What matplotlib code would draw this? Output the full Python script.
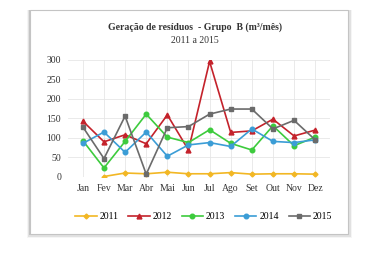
import matplotlib
matplotlib.use("Agg")
import matplotlib.pyplot as plt
from matplotlib.patches import Rectangle

# data (m3/month)
months = ["Jan", "Fev", "Mar", "Abr", "Mai", "Jun", "Jul", "Ago", "Set", "Out", "Nov", "Dez"]
y2011 = [None, 1, 10, 8, 12, 8, 8, 11, 7, 8, 8, 7]
y2012 = [143, 90, 108, 85, 159, 69, 296, 114, 118, 148, 105, 120]
y2013 = [93, 23, 91, 161, 102, 88, 121, 86, 69, 131, 80, 102]
y2014 = [86, 115, 63, 115, 53, 82, 88, 78, 123, 91, 88, 95]
y2015 = [128, 47, 156, 7, 126, 129, 161, 174, 174, 123, 145, 95]

series = [
    ("2011", y2011, "#F2B724", "D", 2.5),
    ("2012", y2012, "#C4222B", "^", 3.5),
    ("2013", y2013, "#3DCB3D", "o", 3.3),
    ("2014", y2014, "#3B9DD6", "o", 3.3),
    ("2015", y2015, "#6B6B6B", "s", 3),
]

plt.rcParams["font.family"] = ["Liberation Serif", "DejaVu Serif"]

fig = plt.figure(figsize=(3.72, 2.56), dpi=100)
fig.patch.set_facecolor("white")

# card with a thin shadow
cx0, cy0, cw, ch = 0.081, 0.086, 0.854, 0.875
for i, a in enumerate([0.04, 0.08, 0.12]):
    d = 0.004 * (3 - i)
    fig.patches.append(Rectangle((cx0 - d * 0.6, cy0 - d * 1.3), cw + d * 1.6, ch + d * 1.3,
                                 transform=fig.transFigure, facecolor="black", alpha=a,
                                 edgecolor="none", zorder=0))
fig.patches.append(Rectangle((cx0, cy0), cw, ch, transform=fig.transFigure,
                             facecolor="white", edgecolor="#C4C4C4", linewidth=0.8, zorder=1))

ax = fig.add_axes([0.183, 0.309, 0.704, 0.457])
ax.set_zorder(2)
ax.patch.set_alpha(0)

x = list(range(len(months)))
for name, vals, color, mk, ms in series:
    xs = [i for i, v in zip(x, vals) if v is not None]
    vs = [v for v in vals if v is not None]
    ax.plot(xs, vs, color=color, marker=mk, markersize=ms, linewidth=1.2, label=name)

ax.set_ylim(0, 300)
ax.set_yticks([0, 50, 100, 150, 200, 250, 300])
ax.set_xlim(-0.7, 11.7)
ax.set_xticks(x)
ax.set_xticklabels(months)
ax.tick_params(labelsize=7, length=0, colors="#333333", pad=5)
ax.grid(True, color="#E6E6E6", linewidth=0.6)
ax.set_axisbelow(True)
for s in ax.spines.values():
    s.set_visible(False)

fig.text(0.523, 0.893, "Geração de resíduos  - Grupo  B (m³/mês)", ha="center", va="center",
         fontsize=7, fontweight="bold", color="#333333")
fig.text(0.523, 0.843, "2011 a 2015", ha="center", va="center", fontsize=7, color="#333333")

fig.legend(loc="center", bbox_to_anchor=(0.548, 0.153), ncol=5, frameon=False, fontsize=7,
           handlelength=2.2, columnspacing=1.0, handletextpad=0.3)

fig.savefig("out.png", dpi=100)
